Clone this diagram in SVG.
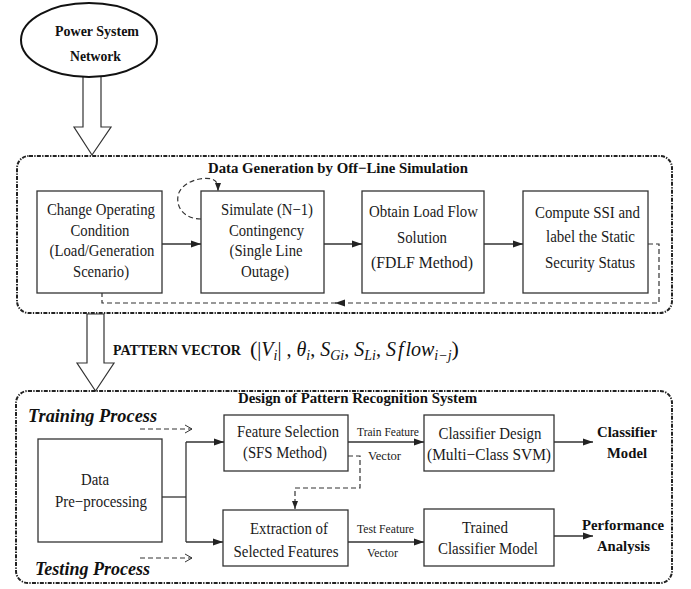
<svg xmlns="http://www.w3.org/2000/svg" width="691" height="589" viewBox="0 0 691 589">
<defs>
<marker id="ah" markerUnits="userSpaceOnUse" markerWidth="10" markerHeight="8" refX="10" refY="4" orient="auto"><path d="M0,0.5 L10,4 L0,7.5 z" fill="#222"/></marker>
<marker id="ahs" markerUnits="userSpaceOnUse" markerWidth="8" markerHeight="7" refX="8" refY="3.5" orient="auto"><path d="M0,0.5 L8,3.5 L0,6.5 z" fill="#222"/></marker>
<marker id="open" markerUnits="userSpaceOnUse" markerWidth="9" markerHeight="10" refX="8" refY="5" orient="auto"><path d="M1,1 L8,5 L1,9" fill="none" stroke="#333" stroke-width="1"/></marker>
<style>
.box{fill:#fff;stroke:#333;stroke-width:1.3}
.outer{fill:none;stroke:#222;stroke-width:2;stroke-dasharray:4 1.3 1.3 1.3}
.hollow{fill:#fff;stroke:#333;stroke-width:1.2}
.t{font-family:"Liberation Serif","Times New Roman",serif;font-size:17px;fill:#1a1a1a;text-anchor:middle}
.s{font-family:"Liberation Serif","Times New Roman",serif;font-size:13px;fill:#1a1a1a}
.b{font-family:"Liberation Serif","Times New Roman",serif;font-weight:bold;font-size:15px;fill:#111}
.bi{font-family:"Liberation Serif","Times New Roman",serif;font-weight:bold;font-style:italic;font-size:18px;fill:#111}
.m{font-family:"Liberation Serif","Times New Roman",serif;font-size:20px;fill:#111}
.c{fill:none;stroke:#333;stroke-width:1.3}
.d{fill:none;stroke:#333;stroke-width:1.2;stroke-dasharray:5 3}
</style>
</defs>

<g id="input-arrow-1"><polygon class="hollow" points="83,70 101,70 101,127 111,127 92,155 74,127 83,127"/></g>
<g id="power-system-network">
<ellipse cx="89" cy="40" rx="68" ry="37" fill="#fff" stroke="#111" stroke-width="2"/>
<text class="b" x="97" y="36" text-anchor="middle" font-size="14.5" textLength="84" lengthAdjust="spacingAndGlyphs">Power System</text>
<text class="b" x="95.5" y="61" text-anchor="middle" font-size="14.5" textLength="51" lengthAdjust="spacingAndGlyphs">Network</text>
</g>

<g id="data-generation">
<rect class="outer" x="17" y="156" width="655" height="157" rx="12"/>
<text class="b" x="208" y="173" textLength="260" lengthAdjust="spacingAndGlyphs">Data Generation by Off−Line Simulation</text>
</g>

<g id="change-operating">
<rect class="box" x="37" y="191" width="125" height="102"/>
<text class="t" x="101" y="215" textLength="108" lengthAdjust="spacingAndGlyphs">Change Operating</text>
<text class="t" x="100" y="236" textLength="59" lengthAdjust="spacingAndGlyphs">Condition</text>
<text class="t" x="102" y="256" textLength="105" lengthAdjust="spacingAndGlyphs">(Load/Generation</text>
<text class="t" x="101" y="277" textLength="56" lengthAdjust="spacingAndGlyphs">Scenario)</text>
</g>
<g id="simulate">
<rect class="box" x="201" y="191" width="123" height="102"/>
<text class="t" x="267" y="215" textLength="92" lengthAdjust="spacingAndGlyphs">Simulate (N−1)</text>
<text class="t" x="266.5" y="236" textLength="75" lengthAdjust="spacingAndGlyphs">Contingency</text>
<text class="t" x="266" y="256" textLength="73" lengthAdjust="spacingAndGlyphs">(Single Line</text>
<text class="t" x="265" y="277" textLength="48" lengthAdjust="spacingAndGlyphs">Outage)</text>
</g>
<g id="load-flow">
<rect class="box" x="362" y="191" width="122" height="102"/>
<text class="t" x="423.5" y="217" textLength="109" lengthAdjust="spacingAndGlyphs">Obtain Load Flow</text>
<text class="t" x="422" y="243" textLength="50" lengthAdjust="spacingAndGlyphs">Solution</text>
<text class="t" x="422" y="268" textLength="102" lengthAdjust="spacingAndGlyphs">(FDLF Method)</text>
</g>
<g id="compute-ssi">
<rect class="box" x="523" y="191" width="125" height="102"/>
<text class="t" x="587.5" y="218" textLength="105" lengthAdjust="spacingAndGlyphs">Compute SSI and</text>
<text class="t" x="590.5" y="242" textLength="89" lengthAdjust="spacingAndGlyphs">label the Static</text>
<text class="t" x="590" y="268" textLength="90" lengthAdjust="spacingAndGlyphs">Security Status</text>
</g>

<g id="pattern-vector">
<polygon class="hollow" points="87,314 104,314 104,363 114,363 95.5,391 77,363 87,363"/>
<text class="b" x="113" y="355" font-size="13.5" textLength="128" lengthAdjust="spacingAndGlyphs">PATTERN VECTOR</text>
<text class="m" x="250" y="356"><tspan font-size="22">(</tspan>|<tspan font-style="italic">V</tspan><tspan font-style="italic" font-size="14" dy="4">i</tspan><tspan dy="-4">| , </tspan><tspan font-style="italic">θ</tspan><tspan font-style="italic" font-size="14" dy="4">i</tspan><tspan dy="-4">, </tspan><tspan font-style="italic">S</tspan><tspan font-style="italic" font-size="14" dy="4">Gi</tspan><tspan dy="-4">, </tspan><tspan font-style="italic">S</tspan><tspan font-style="italic" font-size="14" dy="4">Li</tspan><tspan dy="-4">, </tspan><tspan font-style="italic">S</tspan><tspan font-style="italic" dx="2">f</tspan><tspan font-style="italic" dx="2">low</tspan><tspan font-style="italic" font-size="14" dy="4">i−j</tspan><tspan dy="-4" font-size="22">)</tspan></text>
</g>

<g id="pattern-recognition">
<rect class="outer" x="16" y="391" width="656" height="192" rx="12"/>
<text class="b" x="238" y="403" textLength="239" lengthAdjust="spacingAndGlyphs">Design of Pattern Recognition System</text>
</g>
<g id="training-process"><text class="bi" x="28" y="422" textLength="129" lengthAdjust="spacingAndGlyphs">Training Process</text></g>
<g id="testing-process"><text class="bi" x="35" y="575" textLength="115" lengthAdjust="spacingAndGlyphs">Testing Process</text></g>

<g id="data-preprocessing">
<rect class="box" x="38" y="439" width="124" height="103"/>
<text class="t" x="95" y="485" textLength="28" lengthAdjust="spacingAndGlyphs">Data</text>
<text class="t" x="101" y="507" textLength="92" lengthAdjust="spacingAndGlyphs">Pre−processing</text>
</g>
<g id="feature-selection">
<rect class="box" x="224" y="415" width="124" height="56"/>
<text class="t" x="288" y="437" textLength="102" lengthAdjust="spacingAndGlyphs">Feature Selection</text>
<text class="t" x="285" y="458" textLength="84" lengthAdjust="spacingAndGlyphs">(SFS Method)</text>
</g>
<g id="extraction">
<rect class="box" x="223" y="510" width="125" height="56"/>
<text class="t" x="289" y="534" textLength="78" lengthAdjust="spacingAndGlyphs">Extraction of</text>
<text class="t" x="286" y="557" textLength="105" lengthAdjust="spacingAndGlyphs">Selected Features</text>
</g>
<g id="classifier-design">
<rect class="box" x="424" y="415" width="130" height="56"/>
<text class="t" x="490" y="439" textLength="103" lengthAdjust="spacingAndGlyphs">Classifier Design</text>
<text class="t" x="489" y="460" textLength="124" lengthAdjust="spacingAndGlyphs">(Multi−Class SVM)</text>
</g>
<g id="trained-classifier">
<rect class="box" x="424" y="509" width="130" height="57"/>
<text class="t" x="485" y="533" textLength="46" lengthAdjust="spacingAndGlyphs">Trained</text>
<text class="t" x="488" y="554" textLength="100" lengthAdjust="spacingAndGlyphs">Classifier Model</text>
</g>
<g id="classifier-model">
<text class="b" x="627" y="437" text-anchor="middle" font-size="16" textLength="60" lengthAdjust="spacingAndGlyphs">Classifier</text>
<text class="b" x="627" y="458" text-anchor="middle" font-size="16" textLength="40" lengthAdjust="spacingAndGlyphs">Model</text>
</g>
<g id="performance-analysis">
<text class="b" x="623" y="530" text-anchor="middle" font-size="16" textLength="82" lengthAdjust="spacingAndGlyphs">Performance</text>
<text class="b" x="623.5" y="551" text-anchor="middle" font-size="16" textLength="53" lengthAdjust="spacingAndGlyphs">Analysis</text>
</g>

<g id="connectors">
<path class="c" d="M162,244 H201" marker-end="url(#ah)"/>
<path class="c" d="M324,244 H362" marker-end="url(#ah)"/>
<path class="c" d="M484,244 H523" marker-end="url(#ah)"/>
<path class="d" d="M201,219 C185,219 176,208 178,196 C180,183 200,176 212,179 C217,181 218,184 218,191" marker-end="url(#ahs)"/>
<path class="d" d="M648,244 H659 V303 H335" marker-end="url(#ah)"/>
<path class="d" d="M336,303 H102 V293"/>

<path class="c" d="M162,497 H186"/>
<path class="c" d="M186,442 V542"/>
<path class="c" d="M186,442 H224" marker-end="url(#ah)"/>
<path class="c" d="M186,542 H223" marker-end="url(#ah)"/>
<path class="c" d="M348,442 H424" marker-end="url(#ah)"/>
<path class="c" d="M348,542 H424" marker-end="url(#ah)"/>
<path class="c" d="M554,442 H593" marker-end="url(#ah)"/>
<path class="c" d="M554,536 H593" marker-end="url(#ah)"/>
<path class="d" d="M348,456 H360 V488 H295 V509" marker-end="url(#ahs)"/>
<path class="d" d="M140,429 H192" marker-end="url(#open)"/>
<path class="d" d="M140,558 H192" marker-end="url(#open)"/>
<text class="s" x="357" y="436" textLength="62" lengthAdjust="spacingAndGlyphs">Train Feature</text>
<text class="s" x="368" y="460" textLength="33" lengthAdjust="spacingAndGlyphs">Vector</text>
<text class="s" x="357" y="533" textLength="57" lengthAdjust="spacingAndGlyphs">Test Feature</text>
<text class="s" x="367" y="557" textLength="31" lengthAdjust="spacingAndGlyphs">Vector</text>
</g>
</svg>
